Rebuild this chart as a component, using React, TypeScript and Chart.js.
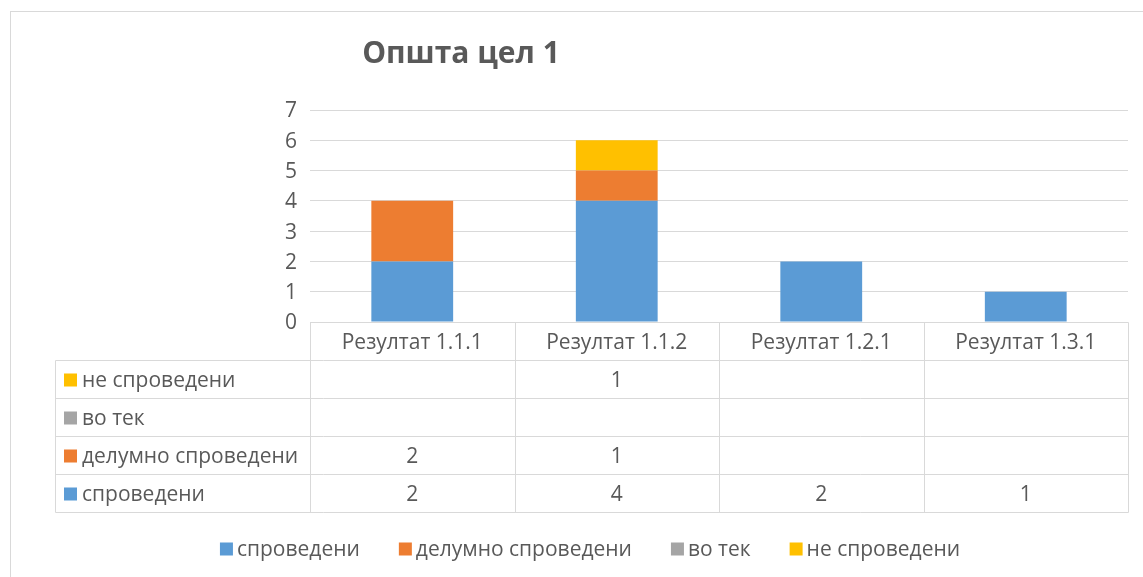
import React, { useEffect, useRef } from "react";
import { Chart, registerables } from "chart.js";
Chart.register(...registerables);

const titleText = "Општа цел 1";
const categories = ["Резултат 1.1.1", "Резултат 1.1.2", "Резултат 1.2.1", "Резултат 1.3.1"];
const seriesNames = ["спроведени", "делумно спроведени", "во тек", "не спроведени"];
const sprovedeni: (number | null)[] = [2, 4, 2, 1];
const delumnoSprovedeni: (number | null)[] = [2, 1, null, null];
const voTek: (number | null)[] = [null, null, null, null];
const neSprovedeni: (number | null)[] = [null, 1, null, null];
const seriesColors = ["#5B9BD5", "#ED7D31", "#A5A5A5", "#FFC000"];
const yMin = 0;
const yMax = 7;
const yStep = 1;

const FONT = "'Open Sans', sans-serif";
const TEXT = "#595959";
const LINE = "#D9D9D9";

const extrasPlugin = {
  id: "extras",
  afterDraw(chart: any) {
    const ctx = chart.ctx as CanvasRenderingContext2D;
    const x = chart.scales.x;
    const area = chart.chartArea;
    const datasets = chart.data.datasets;
    ctx.save();
    // frame
    ctx.strokeStyle = LINE;
    ctx.lineWidth = 1;
    ctx.strokeRect(10.5, 11.5, 1400, 800);

    // title
    ctx.fillStyle = TEXT;
    ctx.font = `bold 30px ${FONT}`;
    ctx.textAlign = "center";
    ctx.textBaseline = "middle";
    ctx.fillText(titleText, 461, 54);

    // data table
    const half = (x.getPixelForValue(1) - x.getPixelForValue(0)) / 2;
    const top = Math.round(area.bottom) + 0.5;
    const rowH = 38;
    const textShift = 1.5;
    const labelLeft = 55.5;
    const nRows = datasets.length;
    const bottom = top + rowH * (nRows + 1);
    const left = Math.round(area.left) + 0.5;
    const right = Math.round(area.right) + 0.5;
    ctx.strokeStyle = LINE;
    ctx.lineWidth = 1;
    ctx.beginPath();
    ctx.moveTo(left, top);
    ctx.lineTo(right, top);
    for (let r = 1; r <= nRows + 1; r++) {
      const yy = top + rowH * r;
      ctx.moveTo(labelLeft, yy);
      ctx.lineTo(right, yy);
    }
    ctx.moveTo(labelLeft, top + rowH);
    ctx.lineTo(labelLeft, bottom);
    for (let i = 0; i < categories.length; i++) {
      const xl = Math.round(x.getPixelForValue(i) - half) + 0.5;
      ctx.moveTo(xl, top);
      ctx.lineTo(xl, bottom);
    }
    ctx.moveTo(right, top);
    ctx.lineTo(right, bottom);
    ctx.stroke();

    ctx.font = `21px ${FONT}`;
    ctx.fillStyle = TEXT;
    ctx.textAlign = "center";
    categories.forEach((c, i) => {
      ctx.fillText(c, x.getPixelForValue(i), top + rowH / 2 + textShift);
    });
    for (let r = 0; r < nRows; r++) {
      const ds = datasets[nRows - 1 - r];
      const cy = top + rowH * (r + 1) + rowH / 2;
      ctx.fillStyle = ds.backgroundColor;
      ctx.fillRect(64, cy - 6, 13, 13);
      ctx.fillStyle = TEXT;
      ctx.textAlign = "left";
      ctx.fillText(ds.label, 82, cy + textShift);
      ctx.textAlign = "center";
      ds.data.forEach((v: number | null, i: number) => {
        if (v !== null && v !== undefined) ctx.fillText(String(v), x.getPixelForValue(i), cy + textShift);
      });
    }

    // legend
    const ly = 549;
    const box = 13;
    const gapBox = 4;
    const gapItem = 39;
    const widths = datasets.map((d: any) => ctx.measureText(d.label).width);
    const total = widths.reduce((a: number, w: number) => a + box + gapBox + w, 0) + gapItem * (datasets.length - 1);
    let lx = 590 - total / 2;
    datasets.forEach((d: any, i: number) => {
      ctx.fillStyle = d.backgroundColor;
      ctx.fillRect(lx, ly - 6.5, box, box);
      ctx.fillStyle = TEXT;
      ctx.textAlign = "left";
      ctx.fillText(d.label, lx + box + gapBox, ly + 1);
      lx += box + gapBox + widths[i] + gapItem;
    });
    ctx.restore();
  },
};

export default function App() {
  const ref = useRef<HTMLCanvasElement>(null);
  useEffect(() => {
    if (!ref.current) return;
    const values = [sprovedeni, delumnoSprovedeni, voTek, neSprovedeni];
    const chart = new Chart(ref.current, {
      type: "bar",
      data: {
        labels: categories,
        datasets: seriesNames.map((name, i) => ({
          label: name,
          data: values[i],
          backgroundColor: seriesColors[i],
          borderWidth: 0,
          categoryPercentage: 1,
          barPercentage: 0.4,
        })),
      },
      options: {
        responsive: false,
        animation: false,
        devicePixelRatio: 1,
        layout: { padding: { left: 0, top: 110, right: 15, bottom: 255 } },
        plugins: { legend: { display: false }, title: { display: false }, tooltip: { enabled: false } },
        scales: {
          x: { stacked: true, display: false },
          y: {
            stacked: true,
            min: yMin,
            max: yMax,
            ticks: { stepSize: yStep, color: TEXT, font: { family: FONT, size: 21 }, padding: 13, labelOffset: 1.5 },
            grid: { color: LINE, lineWidth: 1, drawTicks: false },
            border: { display: false },
            afterFit(scale: any) {
              scale.width = 310;
            },
          },
        },
      },
      plugins: [extrasPlugin],
    });
    return () => chart.destroy();
  }, []);
  return (
    <div style={{ position: "absolute", left: 0, top: 0, width: 1143, height: 577, background: "#fff" }}>
      <canvas ref={ref} width={1143} height={577} style={{ width: 1143, height: 577, display: "block" }} />
    </div>
  );
}
